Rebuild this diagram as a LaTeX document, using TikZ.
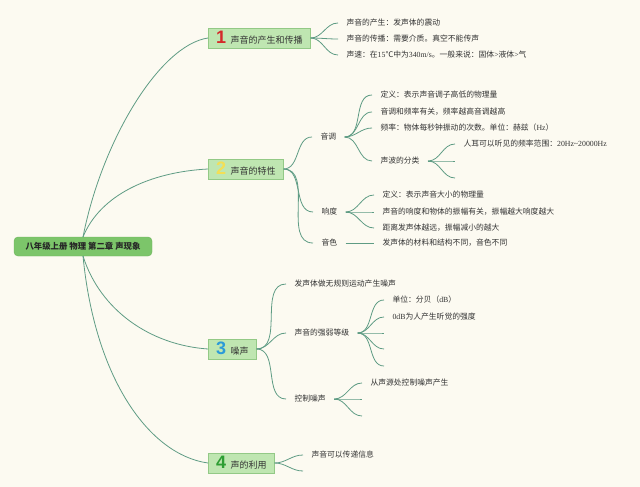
\documentclass[tikz,border=0pt]{standalone}
\usepackage{fontspec}
\setmainfont{Noto Sans CJK SC}
\newfontfamily\lat{Liberation Serif}
\newfontfamily\numf{Liberation Sans}
\definecolor{bg}{HTML}{FCFAF1}
\definecolor{linec}{HTML}{5F9C84}
\definecolor{boxf}{HTML}{BFE6B1}
\definecolor{boxb}{HTML}{93C986}
\definecolor{rootf}{HTML}{7CC56A}
\definecolor{rootb}{HTML}{6DB35B}
\definecolor{txt}{HTML}{333333}
\definecolor{nred}{HTML}{D42A2A}
\definecolor{nyel}{HTML}{F3DF55}
\definecolor{nblu}{HTML}{2B9AD8}
\definecolor{ngrn}{HTML}{2E9E33}
\newcommand\bnum[2]{{\numf\bfseries\fontsize{18}{18}\selectfont\color{#1}#2}\hspace{4.5pt}}
\begin{document}
\begin{tikzpicture}[x=1pt,y=-1pt,
  conn/.style={draw=linec, line width=0.8pt},
  leaf/.style={anchor=west, inner xsep=8.5pt, inner ysep=1pt, outer sep=0pt, font=\fontsize{7.8}{9}\selectfont, text=txt},
  branch/.style={anchor=west, draw=boxb, fill=boxf, line width=0.6pt, minimum height=20pt, inner xsep=8pt, inner ysep=0pt, outer sep=0pt, font=\fontsize{9}{10}\selectfont, text=txt},
  rootbox/.style={draw=rootb, fill=rootf, rounded corners=4pt, minimum width=138pt, minimum height=19pt, inner sep=0pt, outer sep=0pt, font=\fontsize{8.4}{10}\selectfont\bfseries, text=black!85},
  fan/.style={out=0,in=180}]
\fill[bg] (0,0) rectangle (640,487);
\useasboundingbox (0,0) rectangle (640,487);

% root and main branches
\node[rootbox] (root) at (83,246.5) {八年级上册 物理 第二章 声现象};
\node[branch] (b1) at (208,38) {\bnum{nred}{1}声音的产生和传播};
\node[branch] (b2) at (208,169) {\bnum{nyel}{2}声音的特性};
\node[branch] (b3) at (208,349) {\bnum{nblu}{3}噪声};
\node[branch] (b4) at (208,463) {\bnum{ngrn}{4}声的利用};

\draw[conn] (root.north) .. controls (102,140) and (160,45) .. (b1.west);
\draw[conn] (root.north) .. controls (100,195) and (150,172) .. (b2.west);
\draw[conn] (root.south) .. controls (100,310) and (150,345) .. (b3.west);
\draw[conn] (root.south) .. controls (95,380) and (150,455) .. (b4.west);

% branch 1
\node[leaf] (l11) at (338,23) {声音的产生：发声体的震动};
\node[leaf] (l12) at (338,39) {声音的传播：需要介质。真空不能传声};
\node[leaf] (l13) at (338,55) {声速：在{\lat 15}℃中为{\lat 340m/s}。一般来说：固体{\lat >}液体{\lat >}气};
\foreach \c in {l11,l12,l13} \draw[conn] (b1.east) to[fan] (\c.west);

% branch 2
\node[leaf] (yd) at (312,137) {音调};
\node[leaf] (xd) at (313,212) {响度};
\node[leaf] (ys) at (313,243) {音色};
\foreach \c in {yd,xd,ys} \draw[conn] (b2.east) to[fan] (\c.west);

\node[leaf] (t1) at (372,95) {定义：表示声音调子高低的物理量};
\node[leaf] (t2) at (372,112) {音调和频率有关，频率越高音调越高};
\node[leaf] (t3) at (372,128) {频率：物体每秒钟振动的次数。单位：赫兹（{\lat Hz}）};
\node[leaf] (t4) at (372,161) {声波的分类};
\foreach \c in {t1,t2,t3,t4} \draw[conn] (yd.east) to[fan] (\c.west);

\node[leaf] (sb1) at (455,144) {人耳可以听见的频率范围：{\lat 20Hz\textasciitilde 20000Hz}};
\coordinate (sb2) at (455,161);
\coordinate (sb3) at (455,178);
\draw[conn] (t4.east) to[fan] (sb1.west);
\draw[conn] (t4.east) to[fan] (sb2);
\draw[conn] (t4.east) to[fan] (sb3);

\node[leaf] (x1) at (374,195) {定义：表示声音大小的物理量};
\node[leaf] (x2) at (374,212) {声音的响度和物体的振幅有关，振幅越大响度越大};
\node[leaf] (x3) at (374,228) {距离发声体越远，振幅减小的越大};
\foreach \c in {x1,x2,x3} \draw[conn] (xd.east) to[fan] (\c.west);

\node[leaf] (s1) at (374,243) {发声体的材料和结构不同，音色不同};
\draw[conn] (ys.east) -- (s1.west);

% branch 3
\node[leaf] (n1) at (286,284) {发声体做无规则运动产生噪声};
\node[leaf] (n2) at (286,333) {声音的强弱等级};
\node[leaf] (n3) at (286,399) {控制噪声};
\foreach \c in {n1,n2,n3} \draw[conn] (b3.east) to[fan] (\c.west);

\node[leaf] (n21) at (384,300) {单位：分贝（{\lat dB}）};
\node[leaf] (n22) at (384,317) {{\lat 0dB}为人产生听觉的强度};
\coordinate (n23) at (384,333);
\coordinate (n24) at (384,349);
\coordinate (n25) at (384,366);
\draw[conn] (n2.east) to[fan] (n21.west);
\draw[conn] (n2.east) to[fan] (n22.west);
\foreach \c in {n23,n24,n25} \draw[conn] (n2.east) to[fan] (\c);

\node[leaf] (n31) at (362,383) {从声源处控制噪声产生};
\coordinate (n32) at (362,399);
\coordinate (n33) at (362,416);
\draw[conn] (n3.east) to[fan] (n31.west);
\draw[conn] (n3.east) to[fan] (n32);
\draw[conn] (n3.east) to[fan] (n33);

% branch 4
\node[leaf] (u1) at (303,455) {声音可以传递信息};
\coordinate (u2) at (303,471);
\draw[conn] (b4.east) to[fan] (u1.west);
\draw[conn] (b4.east) to[fan] (u2);
\end{tikzpicture}
\end{document}
